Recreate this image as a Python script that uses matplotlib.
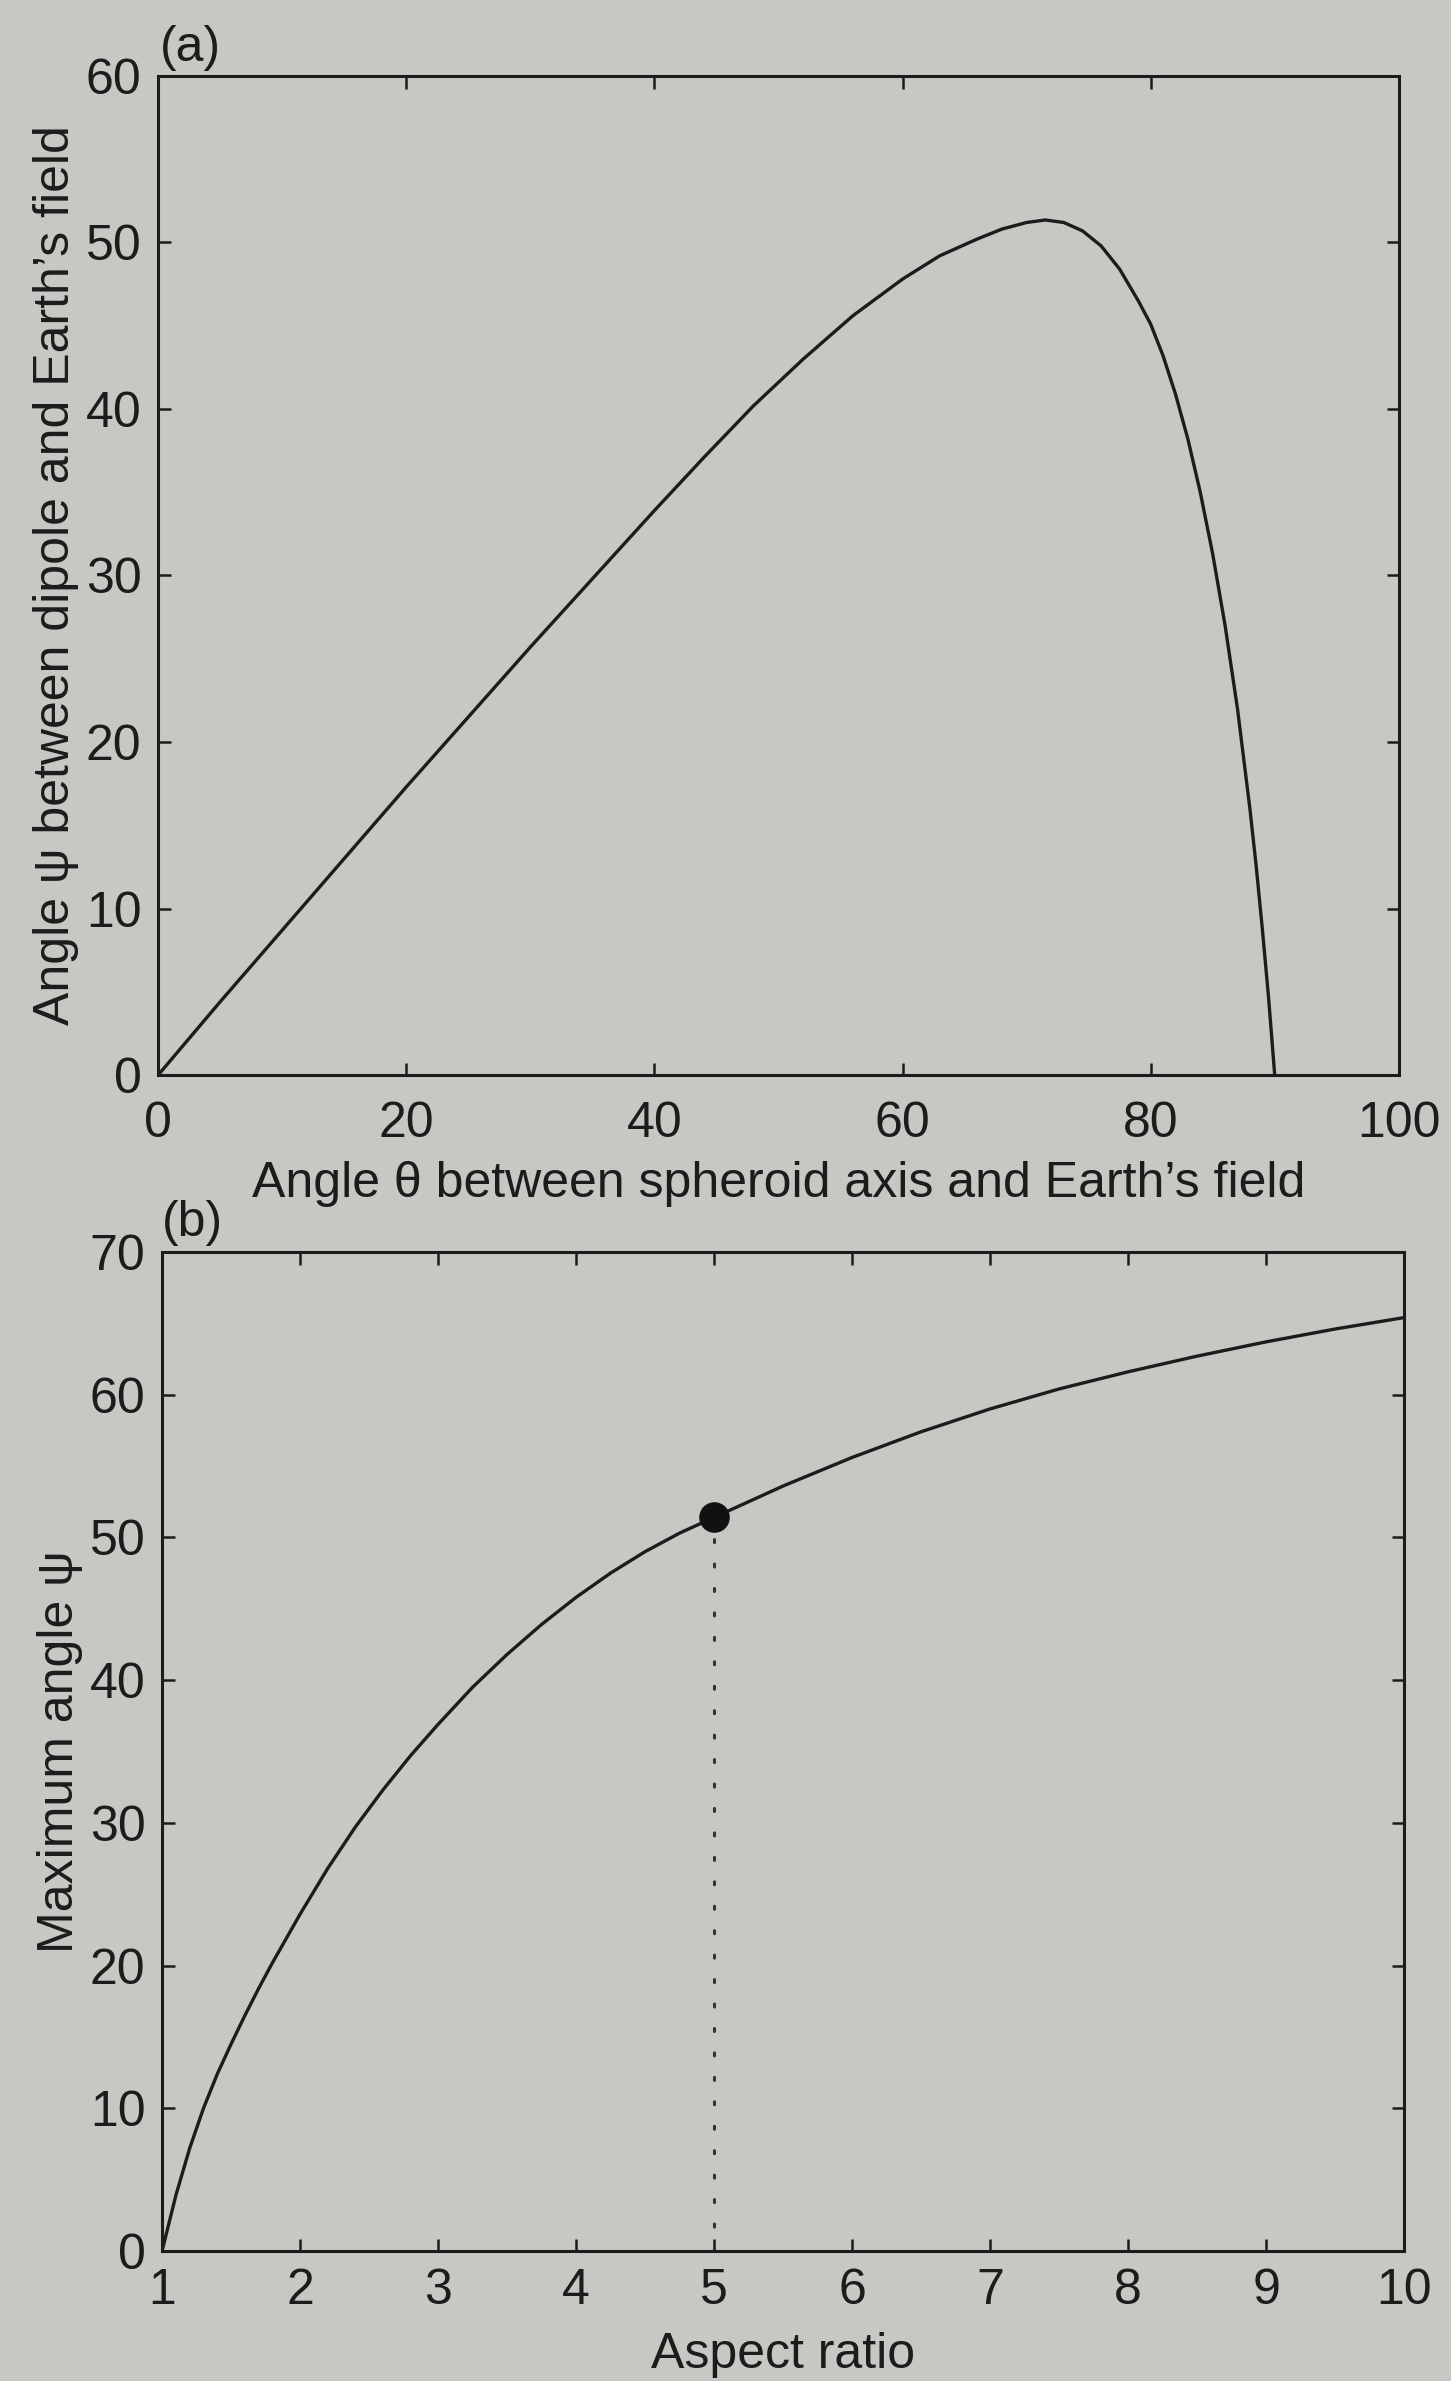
import matplotlib
matplotlib.use("Agg")
import matplotlib.pyplot as plt

plt.rcParams['font.family'] = ['Liberation Sans', 'DejaVu Sans']

# (a) angle between dipole and Earth's field vs spheroid axis angle
THETA = [0, 5, 10, 15, 20, 25, 30, 35, 40, 44, 48, 52, 56, 60, 63, 66, 68,
         70, 71.5, 73, 74.5, 76, 77.5, 79, 80, 81, 82, 83, 84, 85, 86, 87,
         88, 88.5, 89, 89.5, 90]
PSI = [0, 4.4, 8.7, 13.0, 17.3, 21.5, 25.7, 29.8, 33.9, 37.1, 40.2, 43.0,
       45.6, 47.8, 49.2, 50.2, 50.8, 51.2, 51.35, 51.2, 50.7, 49.8, 48.4,
       46.5, 45.1, 43.2, 40.9, 38.2, 35.0, 31.3, 27.0, 22.0, 16.0, 12.6,
       8.8, 4.7, 0]

# (b) maximum angle vs aspect ratio
ASPECT = [1.0, 1.1, 1.2, 1.3, 1.4, 1.5, 1.6, 1.7, 1.8, 1.9, 2.0, 2.2, 2.4,
          2.6, 2.8, 3.0, 3.25, 3.5, 3.75, 4.0, 4.25, 4.5, 4.75, 5.0, 5.5,
          6.0, 6.5, 7.0, 7.5, 8.0, 8.5, 9.0, 9.5, 10]
PSI_MAX = [0, 3.9, 7.2, 10.0, 12.4, 14.5, 16.5, 18.4, 20.2, 21.9, 23.6,
           26.8, 29.7, 32.3, 34.7, 36.9, 39.5, 41.8, 43.9, 45.8, 47.5, 49.0,
           50.3, 51.4, 53.6, 55.6, 57.4, 59.0, 60.4, 61.6, 62.7, 63.7, 64.6,
           65.4]
MARK_X = 5
MARK_Y = 51.4

BG = '#c7c7c4'
INK = '#1c1c1c'
FS = 36

fig = plt.figure(figsize=(14.51, 23.81), dpi=100, facecolor=BG)


def style(ax, xpad):
    ax.set_facecolor(BG)
    for s in ax.spines.values():
        s.set_linewidth(2.2)
        s.set_color(INK)
    ax.tick_params(direction='in', top=True, right=True, length=9,
                   width=1.8, color=INK, labelsize=FS, labelcolor=INK)
    ax.tick_params(axis='x', pad=xpad)
    ax.tick_params(axis='y', pad=12)


ax1 = fig.add_axes([0.109, 0.5485, 0.855, 0.4196])
style(ax1, 19)
ax1.plot(THETA, PSI, color=INK, lw=2.4)
ax1.set_xlim(0, 100)
ax1.set_ylim(0, 60)
ax1.set_xticks(range(0, 101, 20))
ax1.set_yticks(range(0, 61, 10))
ax1.set_xlabel("Angle \u03b8 between spheroid axis and Earth\u2019s field",
               fontsize=FS, color=INK, labelpad=10)
ax1.set_ylabel("Angle \u03c8 between dipole and Earth\u2019s field",
               fontsize=FS, color=INK, labelpad=5)

ax2 = fig.add_axes([0.1117, 0.0546, 0.856, 0.4196])
style(ax2, 12)
ax2.plot([MARK_X, MARK_X], [0, MARK_Y], color='#333333', lw=2.2,
         linestyle=(0, (1, 7)), dash_capstyle='round')
ax2.plot(ASPECT, PSI_MAX, color=INK, lw=2.4)
ax2.plot([MARK_X], [MARK_Y], 'o', color='#111111', markersize=21)
ax2.set_xlim(1, 10)
ax2.set_ylim(0, 70)
ax2.set_xticks(range(1, 11))
ax2.set_yticks(range(0, 71, 10))
ax2.set_xlabel("Aspect ratio", fontsize=FS, color=INK, labelpad=13)
ax2.set_ylabel("Maximum angle \u03c8", fontsize=FS, color=INK, labelpad=5)

fig.text(160 / 1451, 1 - 48 / 2381, "(a)", fontsize=FS, color=INK,
         ha='left', va='center')
fig.text(162 / 1451, 1 - 1223 / 2381, "(b)", fontsize=FS, color=INK,
         ha='left', va='center')

fig.savefig("out.png", dpi=100, facecolor=BG)
